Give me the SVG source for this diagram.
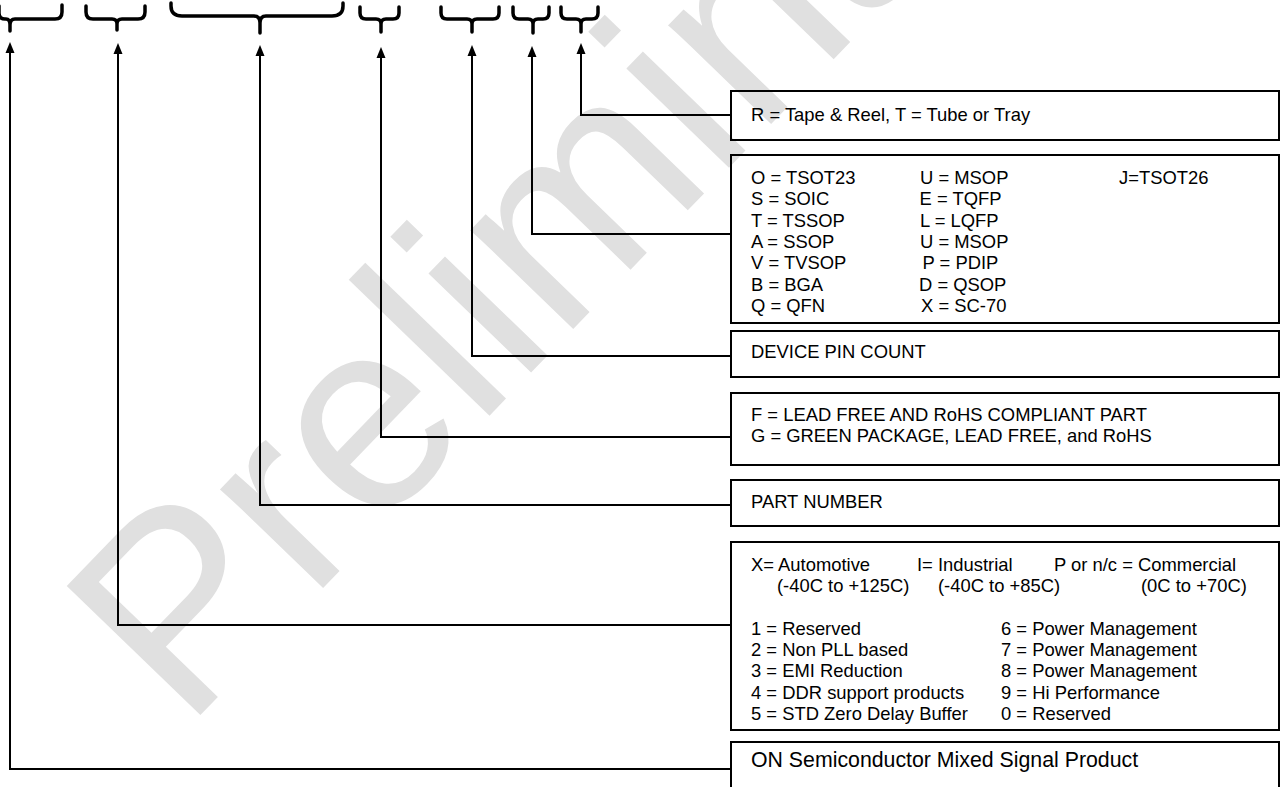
<svg xmlns="http://www.w3.org/2000/svg" width="1281" height="787" viewBox="0 0 1281 787">
  <defs>
    <style>
      .t { font-family: "Liberation Sans", Arial, sans-serif; font-size: 18.4px; fill: #000; }
      .big { font-size: 21.3px; }
      .box { fill: none; stroke: #000; stroke-width: 2; }
      .con { fill: none; stroke: #000; stroke-width: 2; marker-end: url(#arr); }
      .brace { fill: none; stroke: #000; stroke-width: 3.5; stroke-linecap: round; stroke-linejoin: round; }
      .wm { font-family: "Liberation Sans", Arial, sans-serif; font-size: 270px; fill: #e0e0e0; }
    </style>
    <marker id="arr" markerUnits="userSpaceOnUse" markerWidth="14" markerHeight="12" viewBox="0 -6 14 12" refX="5" refY="0" orient="auto">
      <path d="M0,-4.5 L11,0 L0,4.5 z" fill="#000"/>
    </marker>
  </defs>
  <rect width="1281" height="787" fill="#fff"/>
  <g id="watermark">
    <text class="wm" transform="translate(185,731) rotate(-46)">Preliminary</text>
  </g>
  <g id="braces">
    <path class="brace" d="M-1,6 V13 Q-1,19 5,19 H6 Q10,19 10,25 V31 M10,25 Q10,19 15,19 H55 Q62,19 62,12 V5"/>
    <path class="brace" d="M86,6 V12 Q86,19 93,19 H112 Q117,19 117,24 V30 M117,24 Q117,19 122,19 H138 Q145,19 145,12 V6"/>
    <path class="brace" d="M171,3 V6 Q171,16 182,16 H254 Q260,16 260,23 V33 M260,23 Q260,16 266,16 H332 Q343,16 343,6 V3"/>
    <path class="brace" d="M360,7 V13 Q360,19 366,19 H376 Q381,19 381,24 V32 M381,24 Q381,19 386,19 H393 Q399,19 399,13 V7"/>
    <path class="brace" d="M441,7 V13 Q441,19 447,19 H467 Q472,19 472,24 V32 M472,24 Q472,19 477,19 H493 Q499,19 499,13 V7"/>
    <path class="brace" d="M513,7 V13 Q513,19 519,19 H528 Q533,19 533,24 V33 M533,24 Q533,19 538,19 H543 Q549,19 549,13 V7"/>
    <path class="brace" d="M561,7 V13 Q561,19 567,19 H576 Q581,19 581,24 V32 M581,24 Q581,19 586,19 H592 Q598,19 598,13 V7"/>
  </g>
  <g id="connectors">
    <path class="con" d="M731,769 H10 V48"/>
    <path class="con" d="M731,625 H118 V49"/>
    <path class="con" d="M731,505 H260 V51"/>
    <path class="con" d="M731,437 H381 V53"/>
    <path class="con" d="M731,356 H472 V51"/>
    <path class="con" d="M731,234 H532 V52"/>
    <path class="con" d="M731,115 H581 V49"/>
  </g>
  <g id="packing">
    <rect class="box" x="731" y="91" width="548" height="49"/>
    <text class="t" x="751" y="121">R = Tape &amp; Reel, T = Tube or Tray</text>
  </g>
  <g id="package">
    <rect class="box" x="731" y="155" width="548" height="168"/>
    <text class="t" x="751" y="184">O = TSOT23</text>
    <text class="t" x="751" y="205.3">S = SOIC</text>
    <text class="t" x="751" y="226.6">T = TSSOP</text>
    <text class="t" x="751" y="247.9">A = SSOP</text>
    <text class="t" x="751" y="269.2">V = TVSOP</text>
    <text class="t" x="751" y="290.5">B = BGA</text>
    <text class="t" x="751" y="311.8">Q = QFN</text>
    <text class="t" x="920" y="184">U = MSOP</text>
    <text class="t" x="919.5" y="205.3">E = TQFP</text>
    <text class="t" x="920" y="226.6">L = LQFP</text>
    <text class="t" x="920" y="247.9">U = MSOP</text>
    <text class="t" x="922.5" y="269.2">P = PDIP</text>
    <text class="t" x="919" y="290.5">D = QSOP</text>
    <text class="t" x="921" y="311.8">X = SC-70</text>
    <text class="t" x="1119" y="184">J=TSOT26</text>
  </g>
  <g id="pincount">
    <rect class="box" x="731" y="331" width="548" height="46"/>
    <text class="t" x="751" y="358">DEVICE PIN COUNT</text>
  </g>
  <g id="leadfree">
    <rect class="box" x="731" y="393" width="548" height="72"/>
    <text class="t" x="751" y="421">F = LEAD FREE AND RoHS COMPLIANT PART</text>
    <text class="t" x="751" y="442">G = GREEN PACKAGE, LEAD FREE, and RoHS</text>
  </g>
  <g id="partnumber">
    <rect class="box" x="731" y="480" width="548" height="46"/>
    <text class="t" x="751" y="508">PART NUMBER</text>
  </g>
  <g id="grade">
    <rect class="box" x="731" y="542" width="548" height="188"/>
    <text class="t" x="751" y="571">X= Automotive</text>
    <text class="t" x="917" y="571">I= Industrial</text>
    <text class="t" x="1054" y="571">P or n/c = Commercial</text>
    <text class="t" x="777" y="592">(-40C to +125C)</text>
    <text class="t" x="938" y="592">(-40C to +85C)</text>
    <text class="t" x="1141" y="592">(0C to +70C)</text>
    <text class="t" x="751" y="634.6">1 = Reserved</text>
    <text class="t" x="751" y="655.9">2 = Non PLL based</text>
    <text class="t" x="751" y="677.2">3 = EMI Reduction</text>
    <text class="t" x="751" y="698.5">4 = DDR support products</text>
    <text class="t" x="751" y="719.8">5 = STD Zero Delay Buffer</text>
    <text class="t" x="1001" y="634.6">6 = Power Management</text>
    <text class="t" x="1001" y="655.9">7 = Power Management</text>
    <text class="t" x="1001" y="677.2">8 = Power Management</text>
    <text class="t" x="1001" y="698.5">9 = Hi Performance</text>
    <text class="t" x="1001" y="719.8">0 = Reserved</text>
  </g>
  <g id="product">
    <rect class="box" x="731" y="742" width="548" height="60"/>
    <text class="t big" x="751" y="767">ON Semiconductor Mixed Signal Product</text>
  </g>
</svg>
